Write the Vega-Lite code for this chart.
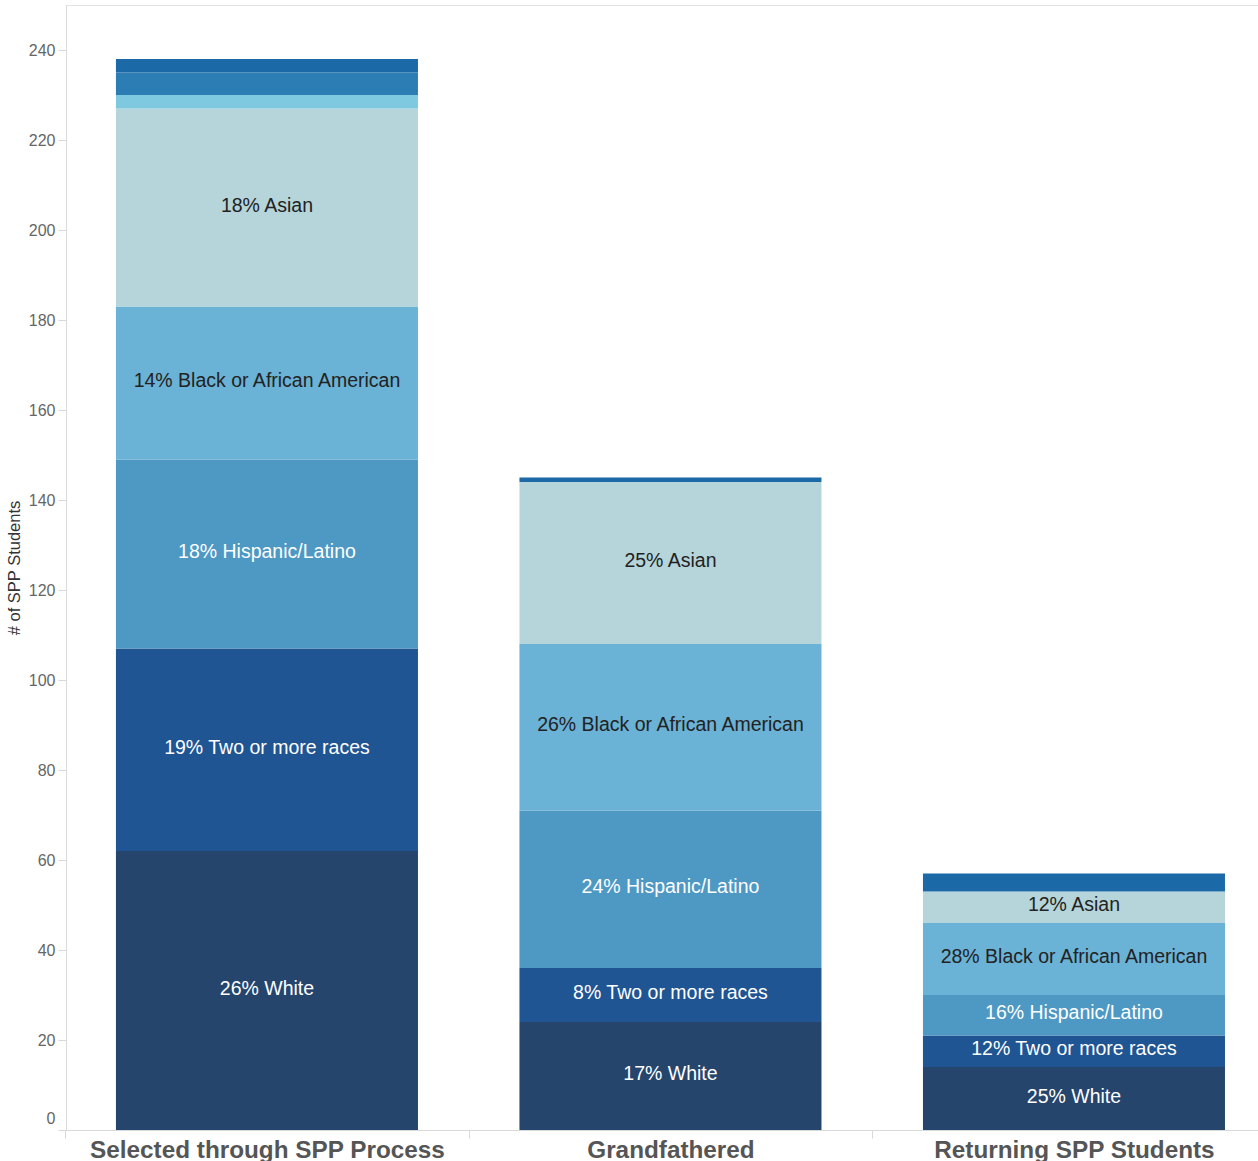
{
  "$schema": "https://vega.github.io/schema/vega-lite/v6.json",
  "width": 1192,
  "height": 1125,
  "autosize": {"type": "none"},
  "padding": {"left": 66, "top": 5, "right": 0, "bottom": 31},
  "background": "white",
  "config": {"view": {"stroke": "#e3e3e3"}, "font": "Liberation Sans"},
  "data": {
    "values": [
      {"group": "Selected through SPP Process", "race": "White", "count": 62, "pct": 26},
      {"group": "Selected through SPP Process", "race": "Two or more races", "count": 45, "pct": 19},
      {"group": "Selected through SPP Process", "race": "Hispanic/Latino", "count": 42, "pct": 18},
      {"group": "Selected through SPP Process", "race": "Black or African American", "count": 34, "pct": 14},
      {"group": "Selected through SPP Process", "race": "Asian", "count": 44, "pct": 18},
      {"group": "Selected through SPP Process", "race": "American Indian or Alaska Native", "count": 3, "pct": null},
      {"group": "Selected through SPP Process", "race": "Native Hawaiian or Other Pacific Islander", "count": 5, "pct": null},
      {"group": "Selected through SPP Process", "race": "Not Reported", "count": 3, "pct": null},
      {"group": "Grandfathered", "race": "White", "count": 24, "pct": 17},
      {"group": "Grandfathered", "race": "Two or more races", "count": 12, "pct": 8},
      {"group": "Grandfathered", "race": "Hispanic/Latino", "count": 35, "pct": 24},
      {"group": "Grandfathered", "race": "Black or African American", "count": 37, "pct": 26},
      {"group": "Grandfathered", "race": "Asian", "count": 36, "pct": 25},
      {"group": "Grandfathered", "race": "Not Reported", "count": 1, "pct": null},
      {"group": "Returning SPP Students", "race": "White", "count": 14, "pct": 25},
      {"group": "Returning SPP Students", "race": "Two or more races", "count": 7, "pct": 12},
      {"group": "Returning SPP Students", "race": "Hispanic/Latino", "count": 9, "pct": 16},
      {"group": "Returning SPP Students", "race": "Black or African American", "count": 16, "pct": 28},
      {"group": "Returning SPP Students", "race": "Asian", "count": 7, "pct": 12},
      {"group": "Returning SPP Students", "race": "Not Reported", "count": 4, "pct": null}
    ]
  },
  "transform": [
    {"calculate": "indexof(['White','Two or more races','Hispanic/Latino','Black or African American','Asian','American Indian or Alaska Native','Native Hawaiian or Other Pacific Islander','Not Reported'], datum.race)", "as": "ord"},
    {"stack": "count", "groupby": ["group"], "sort": [{"field": "ord", "order": "ascending"}], "as": ["y0", "y1"]},
    {"calculate": "(datum.y0 + datum.y1) / 2", "as": "ymid"},
    {"calculate": "datum.pct == null ? '' : datum.pct + '% ' + datum.race", "as": "label"}
  ],
  "encoding": {
    "x": {
      "field": "group",
      "type": "nominal",
      "sort": ["Selected through SPP Process", "Grandfathered", "Returning SPP Students"],
      "scale": {"paddingInner": 0.2515, "paddingOuter": 0.1028, "align": 0.602},
      "axis": {
        "title": null,
        "labelAngle": 0,
        "labelFontSize": 24.3,
        "labelFontWeight": "bold",
        "labelColor": "#555555",
        "labelLimit": 0,
        "tickOffset": -201.75,
        "labelOffset": 201.75,
        "tickColor": "#d9d9d9",
        "tickSize": 8,
        "domainColor": "#d9d9d9",
        "labelPadding": 0
      }
    }
  },
  "layer": [
    {
      "mark": {"type": "bar"},
      "encoding": {
        "y": {
          "field": "y0",
          "type": "quantitative",
          "scale": {"domain": [0, 250], "nice": false},
          "axis": {
            "title": "# of SPP Students",
            "values": [0, 20, 40, 60, 80, 100, 120, 140, 160, 180, 200, 220, 240],
            "grid": false,
            "domainColor": "#d9d9d9",
            "tickColor": "#d9d9d9",
            "tickSize": 8,
            "labelFontSize": 16,
            "labelColor": "#666666",
            "labelFlush": true,
            "labelFlushOffset": -4,
            "labelPadding": 3,
            "titleFontSize": 16.5,
            "titleFontWeight": "normal",
            "titleColor": "#333333",
            "titlePadding": 6
          }
        },
        "y2": {"field": "y1"},
        "color": {
          "field": "race",
          "type": "nominal",
          "scale": {
            "domain": ["White", "Two or more races", "Hispanic/Latino", "Black or African American", "Asian", "American Indian or Alaska Native", "Native Hawaiian or Other Pacific Islander", "Not Reported"],
            "range": ["#25456C", "#1F5592", "#4E98C4", "#6AB2D6", "#B5D5DA", "#7EC8E0", "#2D7DB5", "#1C69A7"]
          },
          "legend": null
        }
      }
    },
    {
      "transform": [{"filter": "datum.label != ''"}],
      "mark": {"type": "text", "fontSize": 19.5, "baseline": "middle", "align": "center", "dy": -2},
      "encoding": {
        "y": {"field": "ymid", "type": "quantitative"},
        "text": {"field": "label"},
        "color": {
          "condition": {"test": "datum.race == 'Asian' || datum.race == 'Black or African American'", "value": "#222222"},
          "value": "#ffffff"
        }
      }
    }
  ]
}
